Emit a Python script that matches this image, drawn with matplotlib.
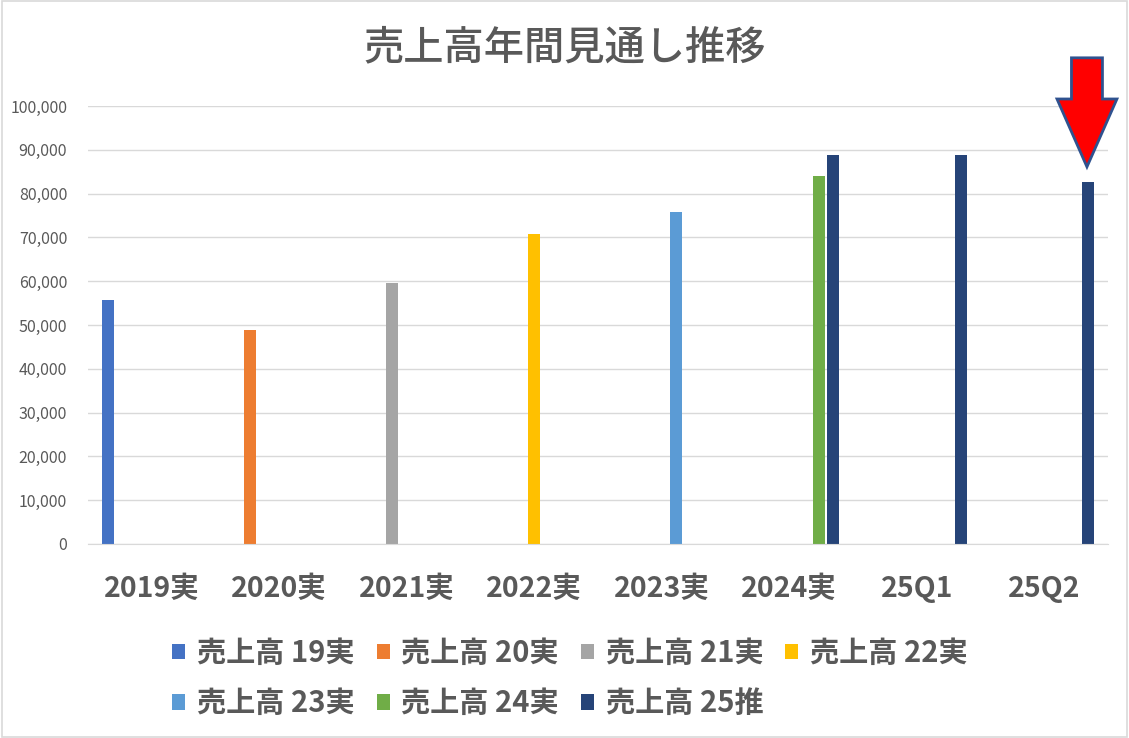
import matplotlib
matplotlib.use('Agg')
import matplotlib.pyplot as plt
from matplotlib.patches import FancyArrow, Rectangle
import numpy as np

plt.rcParams['font.family'] = ['Noto Sans CJK JP', 'DejaVu Sans']

title = '売上高年間見通し推移'
categories = ['2019実', '2020実', '2021実', '2022実', '2023実', '2024実', '25Q1', '25Q2']
series_names = ['売上高 19実', '売上高 20実', '売上高 21実', '売上高 22実',
                '売上高 23実', '売上高 24実', '売上高 25推']
colors = ['#4472C4', '#ED7D31', '#A5A5A5', '#FFC000', '#5B9BD5', '#70AD47', '#264478']

nan = np.nan
s19 = [55700, nan, nan, nan, nan, nan, nan, nan]
s20 = [nan, 48900, nan, nan, nan, nan, nan, nan]
s21 = [nan, nan, 59600, nan, nan, nan, nan, nan]
s22 = [nan, nan, nan, 70800, nan, nan, nan, nan]
s23 = [nan, nan, nan, nan, 75800, nan, nan, nan]
s24 = [nan, nan, nan, nan, nan, 84000, nan, nan]
s25 = [nan, nan, nan, nan, nan, 88800, 88800, 82600]
series = [s19, s20, s21, s22, s23, s24, s25]

grey = '#595959'
fig = plt.figure(figsize=(11.29, 7.38), dpi=100)
ax = fig.add_axes([88/1129, 1-544/738, 1020/1129, 438/738])

x = np.arange(len(categories))
pitch = 0.1153
width = 0.094
handles = []
for j, vals in enumerate(series):
    b = ax.bar(x + (j - 3) * pitch, vals, width=width, color=colors[j], label=series_names[j])
    handles.append(b)

ax.set_xlim(-0.5, len(categories) - 0.5)
ax.set_ylim(0, 100000)
ax.set_yticks(np.arange(0, 100001, 10000))
ax.yaxis.set_major_formatter(matplotlib.ticker.FuncFormatter(lambda v, p: f'{int(v):,}'))
ax.grid(axis='y', color='#D9D9D9', linewidth=1)
ax.set_axisbelow(True)
for s in ['top', 'right', 'left']:
    ax.spines[s].set_visible(False)
ax.spines['bottom'].set_color('#D9D9D9')
ax.tick_params(axis='both', length=0)
ax.tick_params(axis='y', labelsize=11.5, labelcolor=grey, pad=15)
ax.set_xticks(x)
ax.set_xticklabels(categories, fontsize=20.5, fontweight='bold', color=grey)
ax.tick_params(axis='x', pad=22)

# red arrow marker above 25Q2
arrow = FancyArrow(7.335, 111000, 0, -24900, width=0.243, head_width=0.47,
                   head_length=15500, length_includes_head=True,
                   facecolor='#FF0000', edgecolor='#2F528F', linewidth=2, clip_on=False)
ax.add_patch(arrow)

fig.text(565/1129, 1 - 48/738, title, ha='center', va='center', fontsize=29,
         fontweight='medium', color=grey)

order = [0, 4, 1, 5, 2, 6, 3]
leg = fig.legend([handles[i] for i in order], [series_names[i] for i in order],
                 ncol=4, loc='center', bbox_to_anchor=(570/1129, 1 - 678/738),
                 frameon=False, fontsize=21, handlelength=0.45, handleheight=0.45,
                 handletextpad=0.4, columnspacing=0.75, labelspacing=0.7)
for t in leg.get_texts():
    t.set_color(grey)
    t.set_fontweight('bold')

fig.patches.append(Rectangle((0.002, 0.002), 0.996, 0.996, transform=fig.transFigure,
                             fill=False, edgecolor='#D9D9D9', linewidth=1.2))

fig.savefig('out.png', dpi=100)
